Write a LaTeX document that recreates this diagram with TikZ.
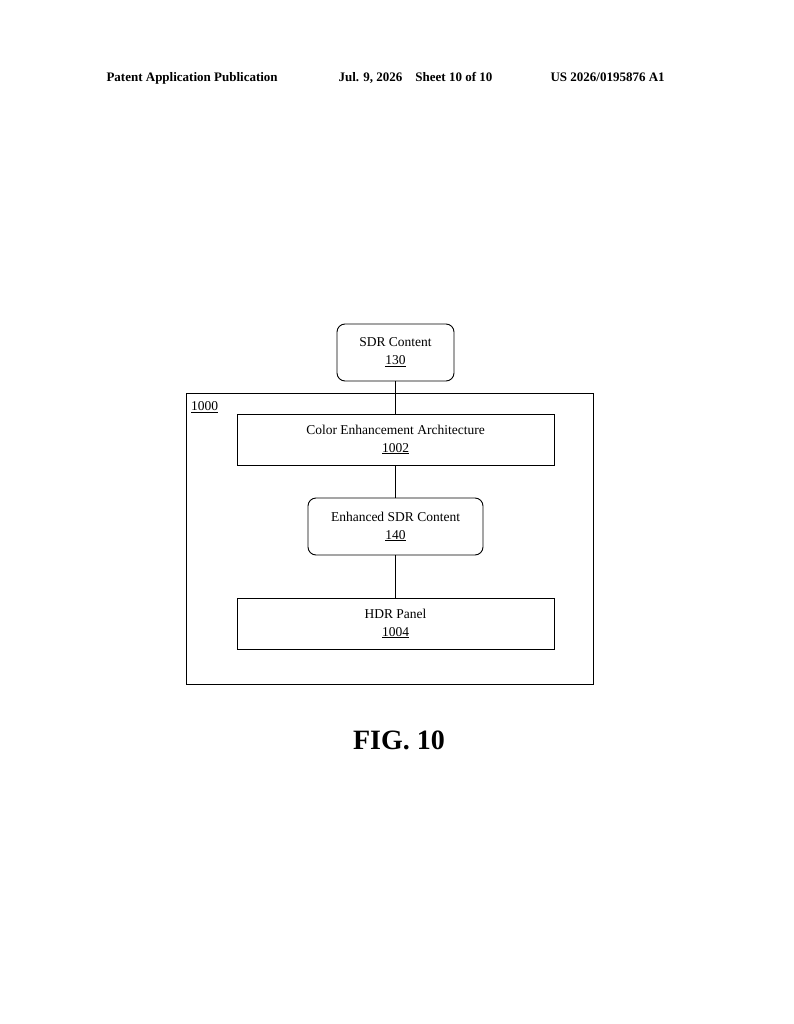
\documentclass[tikz,border=0pt]{standalone}
\usepackage{fontspec}
\setmainfont{Liberation Serif}
\begin{document}
\begin{tikzpicture}[x=1pt,y=-1pt,
  box/.style={draw,line width=0.9pt,minimum height=51pt,inner sep=0pt,align=center,font=\fontsize{13.5}{18}\selectfont},
  rbox/.style={box,rounded corners=8pt,minimum height=57pt},
  hdr/.style={font=\bfseries\fontsize{13}{15}\selectfont,anchor=base west}]
\useasboundingbox (0,0) rectangle (794,1024);
\node[hdr] (h1) at (103,82) {Patent Application Publication};
\node[hdr] (h2) at (335,82) {Jul. 9, 2026\quad Sheet 10 of 10};
\node[hdr] (h3) at (547,82) {US 2026/0195876 A1};
\draw[line width=0.9pt] (186,393) rectangle (593,684);
\node[anchor=north west,inner sep=0pt,font=\fontsize{13.5}{16}\selectfont] (l1000) at (191,401) {\underline{1000}};
\node[rbox,minimum width=117pt] (sdr) at (395.5,352.5) {SDR Content\\\underline{130}};
\node[box,minimum width=317pt] (cea) at (395.5,439.5) {Color Enhancement Architecture\\\underline{1002}};
\node[rbox,minimum width=175pt] (esdr) at (395.5,526.5) {Enhanced SDR Content\\\underline{140}};
\node[box,minimum width=317pt] (hdr) at (395.5,623.5) {HDR Panel\\\underline{1004}};
\draw[line width=0.9pt] (sdr) -- (cea);
\draw[line width=0.9pt] (cea) -- (esdr);
\draw[line width=0.9pt] (esdr) -- (hdr);
\node[font=\bfseries\fontsize{28}{32}\selectfont] (fig) at (399,740) {FIG. 10};
\end{tikzpicture}
\end{document}
